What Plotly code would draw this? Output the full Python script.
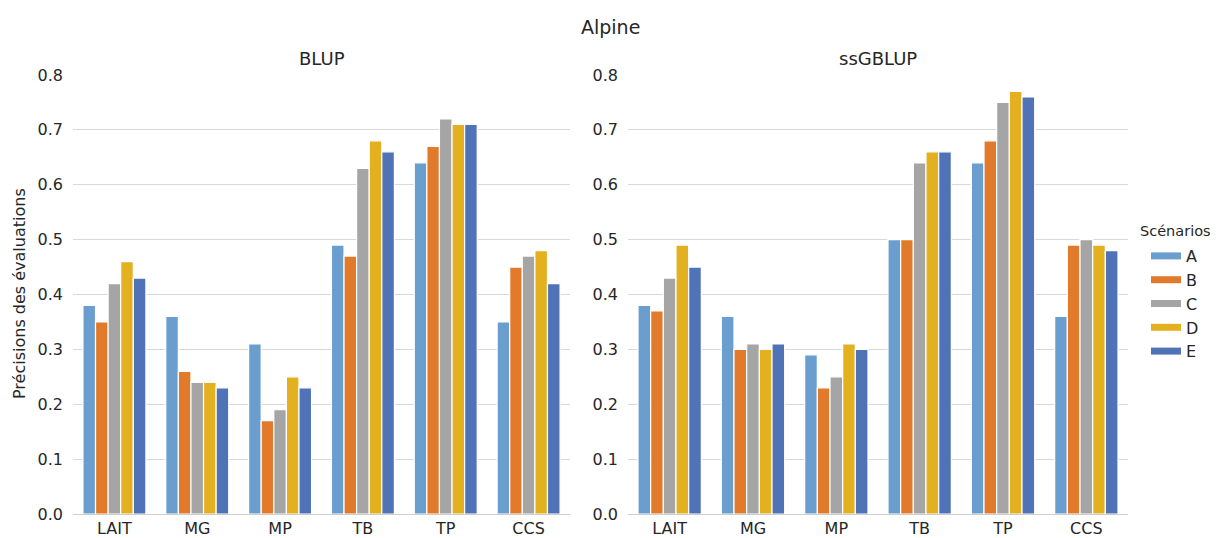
import plotly.graph_objects as go

# Traits and scenarios
traits = ["LAIT", "MG", "MP", "TB", "TP", "CCS"]
scenarios = ["A", "B", "C", "D", "E"]
colors = ["#6a9ecf", "#e27a2b", "#a5a5a5", "#e3b020", "#5073b8"]

# Accuracy of evaluations, BLUP model (one list per scenario)
blup_A = [0.38, 0.36, 0.31, 0.49, 0.64, 0.35]
blup_B = [0.35, 0.26, 0.17, 0.47, 0.67, 0.45]
blup_C = [0.42, 0.24, 0.19, 0.63, 0.72, 0.47]
blup_D = [0.46, 0.24, 0.25, 0.68, 0.71, 0.48]
blup_E = [0.43, 0.23, 0.23, 0.66, 0.71, 0.42]

# Accuracy of evaluations, ssGBLUP model
ssg_A = [0.38, 0.36, 0.29, 0.50, 0.64, 0.36]
ssg_B = [0.37, 0.30, 0.23, 0.50, 0.68, 0.49]
ssg_C = [0.43, 0.31, 0.25, 0.64, 0.75, 0.50]
ssg_D = [0.49, 0.30, 0.31, 0.66, 0.77, 0.49]
ssg_E = [0.45, 0.31, 0.30, 0.66, 0.76, 0.48]

blup = [blup_A, blup_B, blup_C, blup_D, blup_E]
ssg = [ssg_A, ssg_B, ssg_C, ssg_D, ssg_E]

W, H = 1216, 538
FONT = "DejaVu Sans"
TXT = "#262626"

fig = go.Figure()
for i, s in enumerate(scenarios):
    fig.add_trace(go.Bar(
        x=traits, y=blup[i], name=s, legendgroup=s, showlegend=False,
        marker=dict(color=colors[i], line=dict(color="white", width=1.2)),
        xaxis="x", yaxis="y",
    ))
for i, s in enumerate(scenarios):
    fig.add_trace(go.Bar(
        x=traits, y=ssg[i], name=s, legendgroup=s, showlegend=False,
        marker=dict(color=colors[i], line=dict(color="white", width=1.2)),
        xaxis="x2", yaxis="y2",
    ))
# Legend keys drawn as wide colour strips
for i, s in enumerate(scenarios):
    fig.add_trace(go.Scatter(
        x=[None], y=[None], name=s, legendgroup=s, mode="lines",
        line=dict(color=colors[i], width=7), xaxis="x2", yaxis="y2",
        hoverinfo="skip",
    ))


def px_x(p):
    return p / W


def px_y(p):
    return 1 - p / H


y_dom = [px_y(514), px_y(75)]
yaxis_common = dict(
    range=[0, 0.8], tickvals=[0, 0.1, 0.2, 0.3, 0.4, 0.5, 0.6, 0.7, 0.8],
    tickformat=".1f", showgrid=True, gridcolor="#d9d9d9", gridwidth=1,
    zeroline=False, showline=False, ticks="", automargin=False,
    ticklabelstandoff=9,
    tickfont=dict(family=FONT, size=16, color=TXT), domain=y_dom,
)
xaxis_common = dict(
    showline=True, linecolor="#cfcfcf", linewidth=1, ticks="",
    showgrid=False, automargin=False,
    tickfont=dict(family=FONT, size=16, color=TXT),
)

x1_dom = [px_x(73), px_x(570)]
x2_dom = [px_x(628), px_x(1128)]

fig.update_layout(
    width=W, height=H,
    margin=dict(l=0, r=0, t=0, b=0),
    paper_bgcolor="white", plot_bgcolor="white",
    barmode="group", bargap=0.24, bargroupgap=0.0,
    font=dict(family=FONT, color=TXT),
    xaxis=dict(domain=x1_dom, anchor="y", **xaxis_common),
    yaxis=dict(anchor="x", **yaxis_common),
    xaxis2=dict(domain=x2_dom, anchor="y2", **xaxis_common),
    yaxis2=dict(anchor="x2", **yaxis_common),
    legend=dict(
        font=dict(family=FONT, size=16, color=TXT),
        x=px_x(1146), y=px_y(239), xanchor="left", yanchor="top",
        tracegroupgap=0, itemwidth=30, bgcolor="rgba(0,0,0,0)",
    ),
    annotations=[
        dict(text="Alpine", x=px_x(610), y=px_y(27), xref="paper", yref="paper",
             xanchor="center", yanchor="middle", showarrow=False,
             font=dict(family=FONT, size=19, color=TXT)),
        dict(text="BLUP", x=sum(x1_dom) / 2, y=px_y(58), xref="paper", yref="paper",
             xanchor="center", yanchor="middle", showarrow=False,
             font=dict(family=FONT, size=18, color=TXT)),
        dict(text="ssGBLUP", x=sum(x2_dom) / 2, y=px_y(58), xref="paper", yref="paper",
             xanchor="center", yanchor="middle", showarrow=False,
             font=dict(family=FONT, size=18, color=TXT)),
        dict(text="Précisions des évaluations", x=px_x(19), y=px_y(294),
             xref="paper", yref="paper", xanchor="center", yanchor="middle",
             textangle=-90, showarrow=False,
             font=dict(family=FONT, size=16, color=TXT)),
        dict(text="Scénarios", x=px_x(1138), y=px_y(231), xref="paper", yref="paper",
             xanchor="left", yanchor="middle", showarrow=False,
             font=dict(family=FONT, size=14.5, color=TXT)),
    ],
)

fig.write_html("out.html")
